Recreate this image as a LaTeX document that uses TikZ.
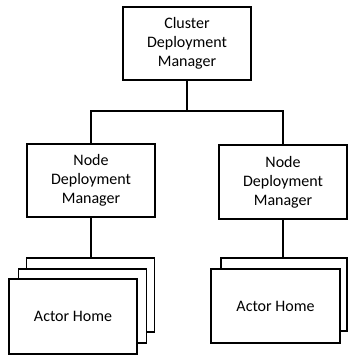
\documentclass[tikz,border=0pt]{standalone}
\usepackage{fontspec}
\setmainfont{Carlito}
\usepackage{tikz}
\tikzset{
  mgrbox/.style={draw, line width=1.5pt, fill=white, align=center,
    minimum width=128pt, minimum height=73pt, inner sep=0pt,
    font=\fontsize{16}{19}\selectfont},
  homebox/.style={draw, line width=1.5pt, fill=white,
    minimum width=128pt, minimum height=75pt, inner sep=0pt,
    font=\fontsize{16}{19}\selectfont},
  wire/.style={line width=1.5pt}
}
\begin{document}
\begin{tikzpicture}[x=1pt,y=-1pt]
\useasboundingbox (0,0) rectangle (348,356);
\node[mgrbox] (cdm) at (187,43.5) {Cluster\\Deployment\\Manager};
\node[mgrbox] (ndmL) at (91,180.5) {Node\\Deployment\\Manager};
\node[mgrbox, minimum width=128pt, minimum height=74pt] (ndmR) at (283,182) {Node\\Deployment\\Manager};
% stacked homes, left
\node[homebox, minimum height=74pt] (ahL3) at (90.5,295) {};
\node[homebox, minimum height=74pt] (ahL2) at (82.5,306) {};
\node[homebox] (ahL1) at (73,316.5) {Actor Home};
% stacked homes, right
\node[homebox, minimum width=126pt, minimum height=73pt] (ahR2) at (284,294.5) {};
\node[homebox, minimum width=129pt, minimum height=74pt] (ahR1) at (275.5,306) {Actor Home};
% connectors
\coordinate (split) at (187,111);
\draw[wire] (cdm.south) -- (split) -| (ndmL.north);
\draw[wire] (split) -| (ndmR.north);
\draw[wire] (ndmL.south) -- (ndmL.south |- ahL3.north);
\draw[wire] (ndmR.south) -- (ndmR.south |- ahR2.north);
\end{tikzpicture}
\end{document}
